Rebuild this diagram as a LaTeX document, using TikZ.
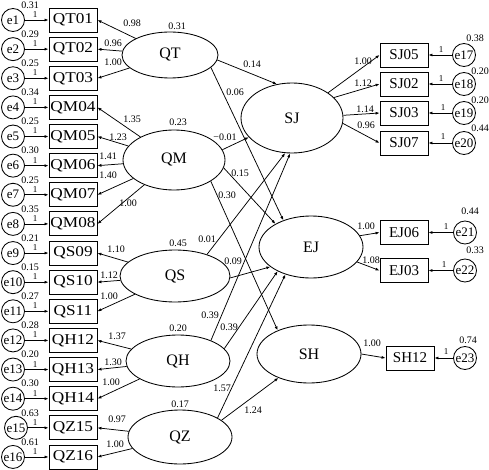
\documentclass[tikz,border=0pt]{standalone}
\usepackage{fontspec}
\setmainfont{Liberation Serif}
\newfontfamily\boxfont[FakeStretch=1.15]{Liberation Serif}
\usetikzlibrary{arrows.meta,shapes.geometric}
\begin{document}
\begin{tikzpicture}[x=1pt,y=-1pt,
  every node/.style={inner sep=0pt},
  conn/.style={line width=0.75pt,-{Latex[length=4pt,width=3pt]}},
  lind/.style={draw,line width=0.85pt,minimum width=48pt,minimum height=24pt,font=\boxfont\fontsize{15}{15}\selectfont},
  rind/.style={draw,line width=0.85pt,minimum width=48pt,minimum height=24pt,font=\fontsize{15}{15}\selectfont},
  err/.style={draw,circle,line width=0.85pt,minimum size=23pt,font=\fontsize{13}{13}\selectfont},
  lat/.style={draw,ellipse,line width=0.85pt,font=\fontsize{16}{16}\selectfont},
  num/.style={font=\fontsize{10}{10}\selectfont},
  one/.style={font=\fontsize{9}{9}\selectfont}
]
\useasboundingbox (0,0) rectangle (489,470);

% latent variables
\node[lat,minimum width=96pt,minimum height=46pt] (QT) at (170,55) {QT};
\node[lat,minimum width=102pt,minimum height=60pt] (QM) at (174,160) {QM};
\node[lat,minimum width=110pt,minimum height=52pt] (QS) at (175,276) {QS};
\node[lat,minimum width=104pt,minimum height=52pt] (QH) at (178,361) {QH};
\node[lat,minimum width=104pt,minimum height=54pt] (QZ) at (180,437) {QZ};
\node[lat,minimum width=102pt,minimum height=70pt] (SJ) at (292,118) {SJ};
\node[lat,minimum width=104pt,minimum height=62pt] (EJ) at (311,247) {EJ};
\node[lat,minimum width=104pt,minimum height=58pt] (SH) at (309,354) {SH};

\node[num] (vQT) at (177,26) {0.31};
\node[num] (vQM) at (178,122) {0.23};
\node[num] (vQS) at (178,243) {0.45};
\node[num] (vQH) at (178,328) {0.20};
\node[num] (vQZ) at (180,404) {0.17};

% left indicators with errors
\foreach \t/\v/\ex [count=\i] in {QT01/0.31/13,QT02/0.29/13,QT03/0.25/13,QM04/0.34/13,QM05/0.25/13,QM06/0.30/13,QM07/0.25/13,QM08/0.35/13,QS09/0.21/13,QS10/0.15/13,QS11/0.27/13,QH12/0.28/13,QH13/0.20/13,QH14/0.30/13,QZ15/0.63/16,QZ16/0.61/13} {
  \pgfmathsetmacro\yy{20+29.13*(\i-1)}
  \node[lind] (\t) at (73,\yy) {\t};
  \node[err] (e\i) at (\ex,\yy) {e\i};
  \draw[conn] (e\i) -- (\t);
  \node[one] (one\i) at (35,\yy-5.5) {1};
  \node[num] (ve\i) at (30,\yy-15) {\v};
}

% left loadings
\foreach \l/\t/\v/\px/\py in {QT/QT01/0.98/132/23,QT/QT02/0.96/113/43,QT/QT03/1.00/113/62,
  QM/QM04/1.35/132/119,QM/QM05/1.23/118/137,QM/QM06/1.41/108/156,QM/QM07/1.40/108/175,QM/QM08/1.00/128/203,
  QS/QS09/1.10/116/249,QS/QS10/1.12/109/275,QS/QS11/1.00/109/296,
  QH/QH12/1.37/117/336,QH/QH13/1.30/113/362,QH/QH14/1.00/111/382,
  QZ/QZ15/0.97/117/419,QZ/QZ16/1.00/115/444} {
  \draw[conn] (\l) -- (\t.east);
  \node[num] (ld\t) at (\px,\py) {\v};
}

% right indicators
\node[rind] (SJ05) at (404,55) {SJ05};
\node[rind] (SJ02) at (404,84) {SJ02};
\node[rind] (SJ03) at (404,113) {SJ03};
\node[rind] (SJ07) at (404,143) {SJ07};
\node[rind] (EJ06) at (404,232.5) {EJ06};
\node[rind] (EJ03) at (404,270.5) {EJ03};
\node[rind] (SH12) at (410,358) {SH12};

\node[err] (e17) at (464,55) {e17};
\node[err] (e18) at (464,84) {e18};
\node[err] (e19) at (464,113) {e19};
\node[err] (e20) at (464,143) {e20};
\node[err] (e21) at (465,232.5) {e21};
\node[err] (e22) at (465,270.5) {e22};
\node[err] (e23) at (465,358) {e23};

\foreach \e/\b/\vx/\vy/\v in {e17/SJ05/475/38/0.38,e18/SJ02/480/71/0.20,e19/SJ03/480/100/0.20,e20/SJ07/480/128/0.44,e21/EJ06/470/211/0.44,e22/EJ03/475/250/0.33,e23/SH12/468/340/0.74} {
  \draw[conn] (\e) -- (\b);
  \node[num] (v\e) at (\vx,\vy) {\v};
}
\node[one] (o17) at (441,50) {1};
\node[one] (o18) at (441,79) {1};
\node[one] (o19) at (443,108) {1};
\node[one] (o20) at (443,137) {1};
\node[one] (o21) at (446,227) {1};
\node[one] (o22) at (444,265) {1};
\node[one] (o23) at (446,352) {1};

% right loadings
\draw[conn] (SJ.35) -- (SJ05.west);
\draw[conn] (SJ.26) -- (SJ02.west);
\draw[conn] (SJ.3) -- (SJ03.west);
\draw[conn] (SJ.-6) -- (SJ07.west);
\draw[conn] (EJ.13) -- (EJ06.west);
\draw[conn] (EJ.-18) -- (EJ03.west);
\draw[conn] (SH.east) -- (SH12.west);
\node[num] (l17) at (363,61) {1.00};
\node[num] (l18) at (363,83) {1.12};
\node[num] (l19) at (365,109) {1.14};
\node[num] (l20) at (366,125) {0.96};
\node[num] (l21) at (366,226) {1.00};
\node[num] (l22) at (371,260) {1.08};
\node[num] (l23) at (372,343) {1.00};

% structural paths
\draw[conn] (QT.-6) -- (SJ.114);
\draw[conn] (QT.-17) -- (EJ.136);
\draw[conn] (QM.12) -- (SJ.204);
\draw[conn] (QM.-9) -- (EJ.147);
\draw[conn] (QM.-30) -- (SH.143);
\draw[conn] (QS.34) -- (SJ.259);
\draw[conn] (QS.-2) -- (EJ.206);
\draw[conn] (QH.32) -- (SJ.267);
\draw[conn] (QH.15) -- (EJ.216);
\draw[conn] (QZ.27) -- (EJ.227);
\draw[conn] (QZ.22) -- (SH.218);

\node[num] (s1) at (252,64) {0.14};
\node[num] (s2) at (235,92) {0.06};
\node[num] (s3) at (225,137) {−0.01};
\node[num] (s4) at (240,173) {0.15};
\node[num] (s5) at (227,195) {0.30};
\node[num] (s6) at (207,239) {0.01};
\node[num] (s7) at (233,261) {0.09};
\node[num] (s8) at (210,315) {0.39};
\node[num] (s9) at (229,327) {0.39};
\node[num] (s10) at (222,388) {1.57};
\node[num] (s11) at (253,410) {1.24};
\end{tikzpicture}
\end{document}
